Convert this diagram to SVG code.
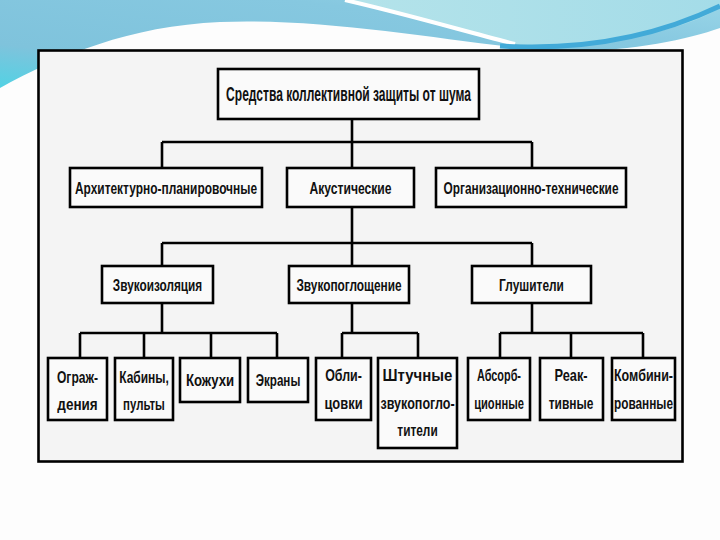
<svg xmlns="http://www.w3.org/2000/svg" width="720" height="540" viewBox="0 0 720 540">
<defs>
<linearGradient id="gBand" x1="0" y1="1" x2="1" y2="0">
<stop offset="0" stop-color="#52d2e4"/>
<stop offset="0.25" stop-color="#7fc3dc"/>
<stop offset="0.7" stop-color="#86c8e0"/>
<stop offset="1" stop-color="#9ad6e8"/>
</linearGradient>
<linearGradient id="gAqua" x1="0" y1="0" x2="1" y2="0">
<stop offset="0" stop-color="#b4e3ea"/>
<stop offset="1" stop-color="#a4dce8"/>
</linearGradient>
<style>
.box{fill:#fafafa;stroke:#000;stroke-width:2.6}
.ln{stroke:#000;stroke-width:2.6;fill:none}
.t{font-family:"Liberation Sans",Arial,sans-serif;font-weight:bold;fill:#111;text-anchor:middle}
.t1{font-size:20px}
.t2{font-size:17px}
.t3{font-size:16.5px}
</style>
</defs>
<rect x="0" y="0" width="720" height="540" fill="#fdfdfd"/>
<g id="banner">
<path d="M0,0 H720 V28 C680,42 600,58 520,48 C430,38 320,18 220,22 C130,26 60,55 0,88 Z" fill="url(#gBand)"/>
<path d="M345,0 H720 V8 C690,26 640,40 560,45 C540,46 525,45 515,44 C450,28 400,12 345,0 Z" fill="url(#gAqua)"/>
<path d="M345,0 C410,15 460,30 515,44" stroke="#ffffff" stroke-width="4" fill="none"/>
<path d="M500,46 C600,52 670,30 720,6" stroke="#42aad8" stroke-width="5" fill="none"/>
</g>
<rect id="frame" x="38.5" y="50.5" width="644" height="411" fill="#f4f4f4" stroke="#000" stroke-width="2.6"/>
<g id="connectors">
<path class="ln" d="M352,119 V142 M162,142 H532 M162,142 V168 M352,142 V168 M532,142 V168"/>
<path class="ln" d="M352,207 V243 M162,243 H532 M162,243 V266 M352,243 V266 M532,243 V266"/>
<path class="ln" d="M162,303 V333 M80,333 H277 M80,333 V358 M144,333 V358 M211,333 V358 M277,333 V358"/>
<path class="ln" d="M352,303 V333 M342,333 H418 M342,333 V358 M418,333 V358"/>
<path class="ln" d="M532,303 V333 M500,333 H643 M500,333 V358 M571,333 V358 M643,333 V358"/>
</g>
<g id="root">
<rect class="box" x="218" y="69" width="261" height="50"/>
<text class="t t1" transform="translate(348.5,101) scale(0.72,1)" textLength="340" lengthAdjust="spacingAndGlyphs">Средства коллективной защиты от шума</text>
</g>
<g id="arch">
<rect class="box" x="70" y="168" width="192" height="39"/>
<text class="t t2" transform="translate(166,194) scale(0.72,1)" textLength="253" lengthAdjust="spacingAndGlyphs">Архитектурно-планировочные</text>
</g>
<g id="acoustic">
<rect class="box" x="287" y="168" width="127" height="39"/>
<text class="t t2" transform="translate(350.5,194) scale(0.72,1)" textLength="114" lengthAdjust="spacingAndGlyphs">Акустические</text>
</g>
<g id="org">
<rect class="box" x="436" y="168" width="190" height="39"/>
<text class="t t2" transform="translate(531,194) scale(0.72,1)" textLength="243" lengthAdjust="spacingAndGlyphs">Организационно-технические</text>
</g>
<g id="izol">
<rect class="box" x="102" y="266" width="111" height="37"/>
<text class="t t2" transform="translate(157.5,291) scale(0.72,1)" textLength="124" lengthAdjust="spacingAndGlyphs">Звукоизоляция</text>
</g>
<g id="pogl">
<rect class="box" x="289" y="266" width="120" height="37"/>
<text class="t t2" transform="translate(349,291) scale(0.72,1)" textLength="146" lengthAdjust="spacingAndGlyphs">Звукопоглощение</text>
</g>
<g id="glush">
<rect class="box" x="472" y="266" width="119" height="37"/>
<text class="t t2" transform="translate(531.5,291) scale(0.72,1)" textLength="90" lengthAdjust="spacingAndGlyphs">Глушители</text>
</g>
<g id="ograzh">
<rect class="box" x="48" y="358" width="59" height="62"/>
<text class="t t3" transform="translate(77.5,383) scale(0.72,1)" textLength="57" lengthAdjust="spacingAndGlyphs">Ограж-</text>
<text class="t t3" transform="translate(77.5,410) scale(0.72,1)" textLength="56" lengthAdjust="spacingAndGlyphs">дения</text>
</g>
<g id="kabiny">
<rect class="box" x="115" y="358" width="58" height="62"/>
<text class="t t3" transform="translate(144,383) scale(0.72,1)" textLength="69" lengthAdjust="spacingAndGlyphs">Кабины,</text>
<text class="t t3" transform="translate(144,410) scale(0.72,1)" textLength="58" lengthAdjust="spacingAndGlyphs">пульты</text>
</g>
<g id="kozhukhi">
<rect class="box" x="180" y="358" width="60" height="44"/>
<text class="t t3" transform="translate(210,386) scale(0.72,1)" textLength="67" lengthAdjust="spacingAndGlyphs">Кожухи</text>
</g>
<g id="ekrany">
<rect class="box" x="248" y="358" width="60" height="44"/>
<text class="t t3" transform="translate(278,386) scale(0.72,1)" textLength="62" lengthAdjust="spacingAndGlyphs">Экраны</text>
</g>
<g id="oblits">
<rect class="box" x="316" y="358" width="55" height="62"/>
<text class="t t3" transform="translate(343.5,381) scale(0.72,1)" textLength="51" lengthAdjust="spacingAndGlyphs">Обли-</text>
<text class="t t3" transform="translate(343.5,409) scale(0.72,1)" textLength="53" lengthAdjust="spacingAndGlyphs">цовки</text>
</g>
<g id="shtuchnye">
<rect class="box" x="378" y="358" width="79" height="90"/>
<text class="t t3" transform="translate(417.5,381) scale(0.72,1)" textLength="97" lengthAdjust="spacingAndGlyphs">Штучные</text>
<text class="t t3" transform="translate(417.5,409) scale(0.72,1)" textLength="103" lengthAdjust="spacingAndGlyphs">звукопогло-</text>
<text class="t t3" transform="translate(417.5,436) scale(0.72,1)" textLength="56" lengthAdjust="spacingAndGlyphs">тители</text>
</g>
<g id="absorb">
<rect class="box" x="468" y="358" width="62" height="62"/>
<text class="t t3" transform="translate(499,381) scale(0.72,1)" textLength="61" lengthAdjust="spacingAndGlyphs">Абсорб-</text>
<text class="t t3" transform="translate(499,409) scale(0.72,1)" textLength="69" lengthAdjust="spacingAndGlyphs">ционные</text>
</g>
<g id="reak">
<rect class="box" x="540" y="358" width="63" height="62"/>
<text class="t t3" transform="translate(571,381) scale(0.72,1)" textLength="46" lengthAdjust="spacingAndGlyphs">Реак-</text>
<text class="t t3" transform="translate(571,409) scale(0.72,1)" textLength="62" lengthAdjust="spacingAndGlyphs">тивные</text>
</g>
<g id="kombin">
<rect class="box" x="612" y="358" width="63" height="62"/>
<text class="t t3" transform="translate(643.5,381) scale(0.72,1)" textLength="82" lengthAdjust="spacingAndGlyphs">Комбини-</text>
<text class="t t3" transform="translate(643.5,409) scale(0.72,1)" textLength="82" lengthAdjust="spacingAndGlyphs">рованные</text>
</g>
</svg>
